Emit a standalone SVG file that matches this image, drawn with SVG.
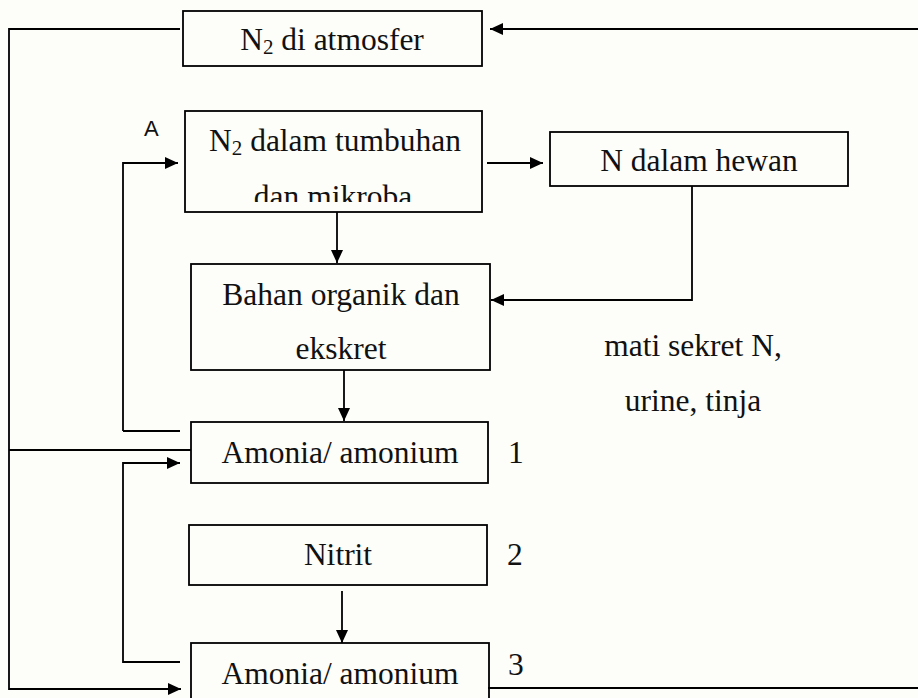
<svg xmlns="http://www.w3.org/2000/svg" width="918" height="698" viewBox="0 0 918 698">
<defs>
<style>
.box{fill:none;stroke:#000;stroke-width:1.8}
.ln{fill:none;stroke:#000;stroke-width:1.8}
.t{font-family:"Liberation Serif","Times New Roman",serif;font-size:31.5px;fill:#111}
.c{text-anchor:middle}
.s{font-size:21px}
.a{font-family:"Liberation Sans",Arial,sans-serif;font-size:22px;fill:#111}
</style>
<marker id="ah" markerUnits="userSpaceOnUse" markerWidth="14" markerHeight="12" refX="13" refY="6" orient="auto">
<path d="M0,0 L13,6 L0,12 Z" fill="#000"/>
</marker>
<clipPath id="clip2"><rect x="185" y="111" width="297" height="91"/></clipPath>
</defs>
<rect width="918" height="698" fill="#fdfdf9"/>
<g id="connectors">
<polyline class="ln" points="180,29 9,29 9,689 181,689" marker-end="url(#ah)"/>
<line class="ln" x1="918" y1="29" x2="490" y2="29" marker-end="url(#ah)"/>
<polyline class="ln" points="123,431 123,163 178,163" marker-end="url(#ah)"/>
<line class="ln" x1="180" y1="431" x2="123" y2="431"/>
<line class="ln" x1="487" y1="163" x2="543" y2="163" marker-end="url(#ah)"/>
<polyline class="ln" points="692,186 692,300 491,300" marker-end="url(#ah)"/>
<line class="ln" x1="337" y1="212" x2="337" y2="263" marker-end="url(#ah)"/>
<line class="ln" x1="344" y1="370" x2="344" y2="421" marker-end="url(#ah)"/>
<line class="ln" x1="9" y1="450" x2="191" y2="450"/>
<polyline class="ln" points="180,662 123,662 123,463 180,463" marker-end="url(#ah)"/>
<line class="ln" x1="342" y1="591" x2="342" y2="643" marker-end="url(#ah)"/>
<line class="ln" x1="488" y1="688" x2="918" y2="688"/>
</g>
<g id="n-atmosfer">
<rect class="box" x="183" y="11" width="299" height="55"/>
<text class="t c" x="332" y="50">N<tspan class="s" dy="4">2</tspan><tspan dy="-4"> di atmosfer</tspan></text>
</g>
<g id="n-tumbuhan">
<rect class="box" x="185" y="111" width="297" height="101"/>
<text class="t c" x="335" y="151">N<tspan class="s" dy="4">2</tspan><tspan dy="-4"> dalam tumbuhan</tspan></text>
<text class="t c" x="333" y="207" clip-path="url(#clip2)">dan mikroba</text>
</g>
<g id="label-a">
<text class="a" x="144" y="136">A</text>
</g>
<g id="n-hewan">
<rect class="box" x="550" y="132" width="298" height="54"/>
<text class="t c" x="699" y="171">N dalam hewan</text>
</g>
<g id="n-bahan">
<rect class="box" x="191" y="264" width="299" height="106"/>
<text class="t c" x="341" y="305">Bahan organik dan</text>
<text class="t c" x="341" y="359">ekskret</text>
</g>
<g id="label-mati">
<text class="t c" x="693" y="356">mati sekret N,</text>
<text class="t c" x="693" y="411">urine, tinja</text>
</g>
<g id="n-amonia1">
<rect class="box" x="191" y="422" width="297" height="61"/>
<text class="t c" x="340" y="463">Amonia/ amonium</text>
<text class="t" x="508" y="463">1</text>
</g>
<g id="n-nitrit">
<rect class="box" x="189" y="525" width="298" height="60"/>
<text class="t c" x="338" y="565">Nitrit</text>
<text class="t" x="507" y="565">2</text>
</g>
<g id="n-amonia2">
<rect class="box" x="191" y="643" width="298" height="70"/>
<text class="t c" x="340" y="684">Amonia/ amonium</text>
<text class="t" x="508" y="675">3</text>
</g>
</svg>
